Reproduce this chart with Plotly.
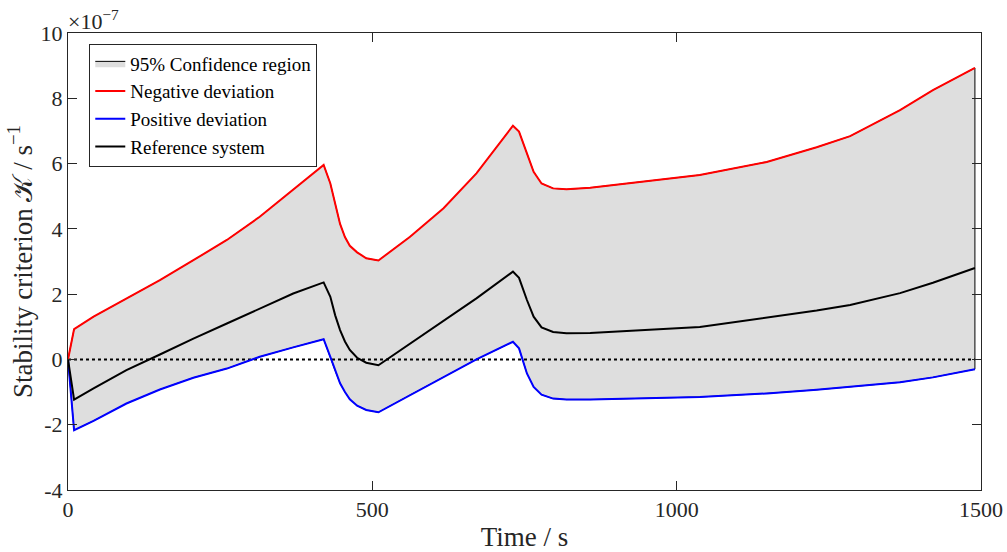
import plotly.graph_objects as go

# Time grid (s)
time_s = [0, 10, 42, 96, 151, 206, 261, 315, 370, 420, 431, 439, 447, 455, 463, 475, 490, 510,
          562, 617, 671, 731, 741, 754, 765, 778, 797, 819, 858, 1038, 1148, 1230, 1285, 1367, 1421, 1490]

# Stability criterion in units of 1e-7 s^-1
negative_dev = [0, 0.93, 1.31, 1.87, 2.43, 3.04, 3.66, 4.37, 5.19, 5.96, 5.39, 4.73, 4.15, 3.75, 3.48, 3.28, 3.10, 3.03,
                3.76, 4.63, 5.70, 7.16, 6.98, 6.31, 5.75, 5.39, 5.24, 5.21, 5.26, 5.65, 6.05, 6.50, 6.84, 7.64, 8.25, 8.93]
reference_sys = [0, -1.23, -0.89, -0.33, 0.15, 0.64, 1.10, 1.56, 2.02, 2.36, 1.92, 1.35, 0.90, 0.55, 0.29, 0.05, -0.10, -0.18,
                 0.49, 1.18, 1.87, 2.69, 2.50, 1.82, 1.31, 0.98, 0.84, 0.80, 0.81, 0.99, 1.27, 1.50, 1.67, 2.03, 2.35, 2.80]
positive_dev = [0, -2.17, -1.88, -1.35, -0.92, -0.56, -0.28, 0.08, 0.37, 0.62, 0.08, -0.35, -0.73, -1.00, -1.22, -1.42, -1.55, -1.62,
                -1.09, -0.53, 0.00, 0.54, 0.34, -0.43, -0.84, -1.08, -1.20, -1.23, -1.23, -1.15, -1.04, -0.93, -0.84, -0.70, -0.55, -0.30]

x_ticks = [0, 500, 1000, 1500]
y_ticks = [-4, -2, 0, 2, 4, 6, 8, 10]
y_tick_labels = ["-4", "-2", "0", "2", "4", "6", "8", "10"]

FONT = "Liberation Serif"
AX = "#262626"

fig = go.Figure()

fig.add_trace(go.Scatter(
    x=time_s + time_s[::-1],
    y=negative_dev + positive_dev[::-1],
    fill="toself", fillcolor="#dedede",
    line=dict(color="black", width=1),
    mode="lines", name="95% Confidence region", hoverinfo="skip"))

fig.add_trace(go.Scatter(x=[time_s[0], time_s[-1]], y=[0, 0], mode="lines",
                         line=dict(color="black", width=2, dash="dot"), showlegend=False))

fig.add_trace(go.Scatter(x=time_s, y=negative_dev, mode="lines",
                         line=dict(color="#ff0000", width=2), name="Negative deviation"))
fig.add_trace(go.Scatter(x=time_s, y=positive_dev, mode="lines",
                         line=dict(color="#0000ff", width=2), name="Positive deviation"))
fig.add_trace(go.Scatter(x=time_s, y=reference_sys, mode="lines",
                         line=dict(color="black", width=2), name="Reference system"))

fig.update_layout(
    width=1007, height=552,
    margin=dict(l=68, r=26, t=33, b=62, autoexpand=False),
    paper_bgcolor="white", plot_bgcolor="white",
    font=dict(family=FONT, size=22, color=AX),
    showlegend=True,
    legend=dict(x=0.0233, y=0.977, xanchor="left", yanchor="top",
                bgcolor="white", bordercolor=AX, borderwidth=1,
                font=dict(family=FONT, size=19, color="black"),
                itemwidth=30, tracegroupgap=0),
    xaxis=dict(range=[0, 1500], tickvals=x_ticks, ticks="inside", ticklen=9,
               tickcolor=AX, showline=True, linecolor=AX, linewidth=1, mirror="ticks",
               showgrid=False, zeroline=False, automargin=False,
               title=dict(text="Time / s", font=dict(family=FONT, size=27, color=AX), standoff=17),
               tickfont=dict(family=FONT, size=22, color=AX)),
    yaxis=dict(range=[-4, 10], tickvals=y_ticks, ticktext=y_tick_labels, ticks="inside", ticklen=9,
               tickcolor=AX, showline=True, linecolor=AX, linewidth=1, mirror="ticks",
               showgrid=False, zeroline=False, automargin=False,
               title=dict(text="Stability criterion 𝒦 / s<sup>−1</sup>",
                          font=dict(family=FONT, size=27, color=AX), standoff=0),
               tickfont=dict(family=FONT, size=22, color=AX)),
    annotations=[dict(text="×10<sup>−7</sup>", xref="paper", yref="paper", x=0, y=1,
                      xanchor="left", yanchor="bottom", showarrow=False, yshift=-3, xshift=-2,
                      font=dict(family=FONT, size=22, color=AX))],
)

# remove the browser's default 8px page margin so the figure fills the window exactly
fig.write_html("out.html", config={"displayModeBar": False},
               post_script="document.body.style.margin='0';")
